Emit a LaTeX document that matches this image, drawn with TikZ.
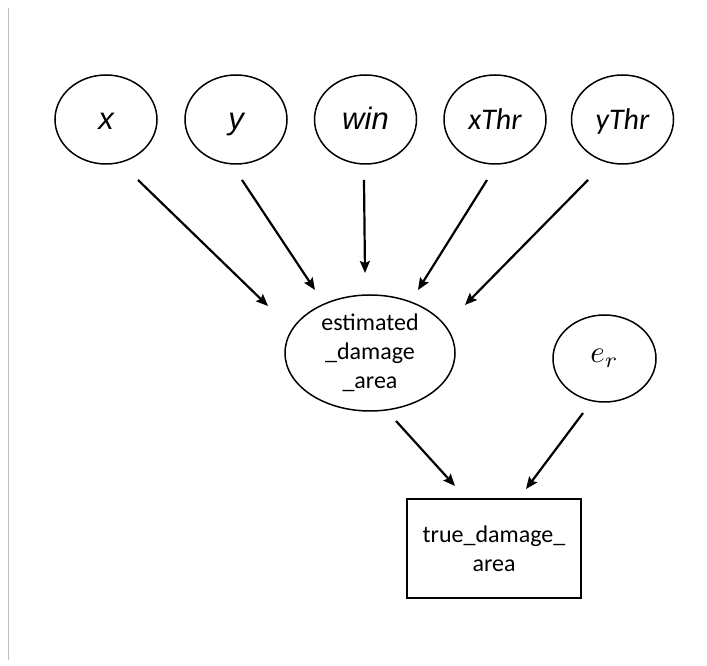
\documentclass[tikz,border=0pt]{standalone}
\usepackage{fontspec}
\setmainfont{Carlito}
\newfontfamily\arialfont{Liberation Sans}
\usetikzlibrary{shapes.geometric,arrows.meta}
\begin{document}
\begin{tikzpicture}[x=1pt,y=1pt,
  topvar/.style={draw,ellipse,line width=1.5pt,minimum width=102pt,minimum height=89pt,inner sep=0pt,text height=24pt,text depth=3pt},
  bigit/.style={font=\arialfont\itshape\fontsize{31}{36}\selectfont},
  thrit/.style={font=\itshape\fontsize{30}{34}\selectfont},
  arr/.style={line width=2.2pt,-{Stealth[length=12pt,width=10pt,inset=2pt]}},
  lbl/.style={font=\fontsize{24}{29}\selectfont,align=center}]
\useasboundingbox (0,0) rectangle (707,666);
\draw[line width=1pt,color=black!25] (8,6) -- (8,658);
\node[topvar,bigit] (x) at (106,546.5) {x};
\node[topvar,bigit] (y) at (236,546.5) {y};
\node[topvar,bigit] (win) at (365.5,546.5) {win};
\node[topvar,thrit] (xThr) at (495,546.5) {xThr};
\node[topvar,thrit] (yThr) at (622.5,546.5) {yThr};
\node[draw,ellipse,line width=1.5pt,minimum width=170pt,minimum height=116pt,inner sep=0pt,lbl] (est) at (370,313) {estimated\\\_damage\\\_area};
\node[draw,ellipse,line width=1.5pt,minimum width=103pt,minimum height=87pt,inner sep=0pt] (er) at (604.5,307.5) {\scalebox{3.1}{$e_r$}};
\node[draw,rectangle,line width=1.5pt,minimum width=174pt,minimum height=99pt,inner sep=0pt,lbl] (tda) at (494,117.5) {true\_damage\_\\area};
\draw[arr] ([shift={(32,-60.5)}]x.center) -- ([shift={(-102,47)}]est.center);
\draw[arr] ([shift={(6,-60.5)}]y.center) -- ([shift={(-55,63)}]est.center);
\draw[arr] ([shift={(-1.5,-60.5)}]win.center) -- ([shift={(-5,80)}]est.center);
\draw[arr] ([shift={(-8,-60.5)}]xThr.center) -- ([shift={(48,63)}]est.center);
\draw[arr] ([shift={(-34.5,-60.5)}]yThr.center) -- ([shift={(95,48)}]est.center);
\draw[arr] ([shift={(26,-68)}]est.center) -- ([shift={(-39,62.5)}]tda.center);
\draw[arr] ([shift={(-21.5,-54.5)}]er.center) -- ([shift={(32,59.5)}]tda.center);
\end{tikzpicture}
\end{document}
